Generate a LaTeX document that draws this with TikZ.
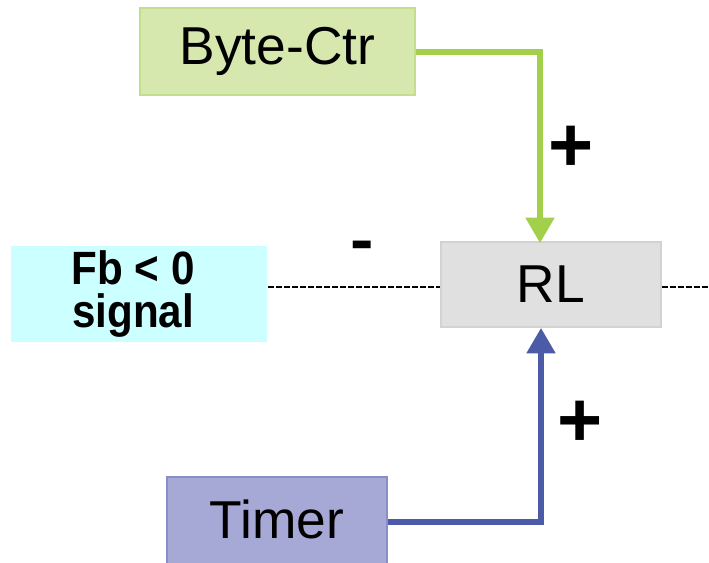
\documentclass[tikz,border=0pt]{standalone}
\usepackage{fontspec}
\setmainfont{Liberation Sans}
\usetikzlibrary{arrows.meta}
\definecolor{gfill}{HTML}{D6E8AE}
\definecolor{gdraw}{HTML}{C3DF8E}
\definecolor{gline}{HTML}{A3D04A}
\definecolor{rfill}{HTML}{E0E0E0}
\definecolor{rdraw}{HTML}{D2D2D2}
\definecolor{cfill}{HTML}{CCFFFF}
\definecolor{tfill}{HTML}{A6A8D6}
\definecolor{tdraw}{HTML}{8A8DC8}
\definecolor{bline}{HTML}{4B5BA8}
\tikzset{
  box/.style={rectangle, inner sep=0pt, line width=1.5pt, font=\fontsize{40}{44}\selectfont},
  sign/.style={font=\bfseries\fontsize{58}{60}\selectfont, inner sep=0pt, anchor=base},
  link/.style={line width=3.8pt, -{Triangle[length=19pt,width=21pt]}},
  fbline/.style={dashed, dash pattern=on 4.5pt off 1.5pt, line width=0.8pt}
}
\begin{document}
\begin{tikzpicture}[x=0.75pt,y=-0.75pt]
\useasboundingbox (0,0) rectangle (709,562);
\begin{scope}
\clip (0,0) rectangle (709,562);
\node[box, fill=gfill, draw=gdraw, minimum width=206pt, minimum height=65pt] (bc) at (277.5,51.5) {Byte-Ctr};
\node[box, fill=rfill, draw=rdraw, minimum width=165pt, minimum height=64pt] (rl) at (551,284.5) {RL};
\node[box, fill=cfill, draw=none, minimum width=192pt, minimum height=72pt, align=center, font=\bfseries\fontsize{31}{32}\selectfont] (fb) at (139,294) {\raisebox{-1.5pt}{\scalebox{1.02}[1.13]{Fb < 0}}\kern9pt\\\raisebox{-1.5pt}{\scalebox{1.02}[1.13]{signal}}\kern9pt};
\node[box, fill=tfill, draw=tdraw, minimum width=165pt, minimum height=72pt] (tm) at (277,525) {\raisebox{9.5pt}{Timer}};
\coordinate (rlin) at (540,243);
\coordinate (rlbot) at (541,328);
\coordinate (gc) at (540,52);
\coordinate (bcor) at (541,522);
\coordinate (dend) at (712,287);
\draw[link, gline] (bc.east |- gc) -- (gc) -- (rlin);
\draw[link, bline] (tm.east |- bcor) -- (bcor) -- (rlbot);
\draw[fbline] (fb.east |- 0,287) -- (rl.west |- 0,287);
\draw[fbline] (rl.east |- 0,287) -- (dend);
\node[sign] (p1) at (571,171.5) {+};
\node[sign] (p2) at (580,446) {+};
\node[sign, font=\bfseries\fontsize{48}{50}\selectfont] (m1) at (362,261) {\scalebox{1.1}[1]{-}};
\end{scope}
\end{tikzpicture}
\end{document}
